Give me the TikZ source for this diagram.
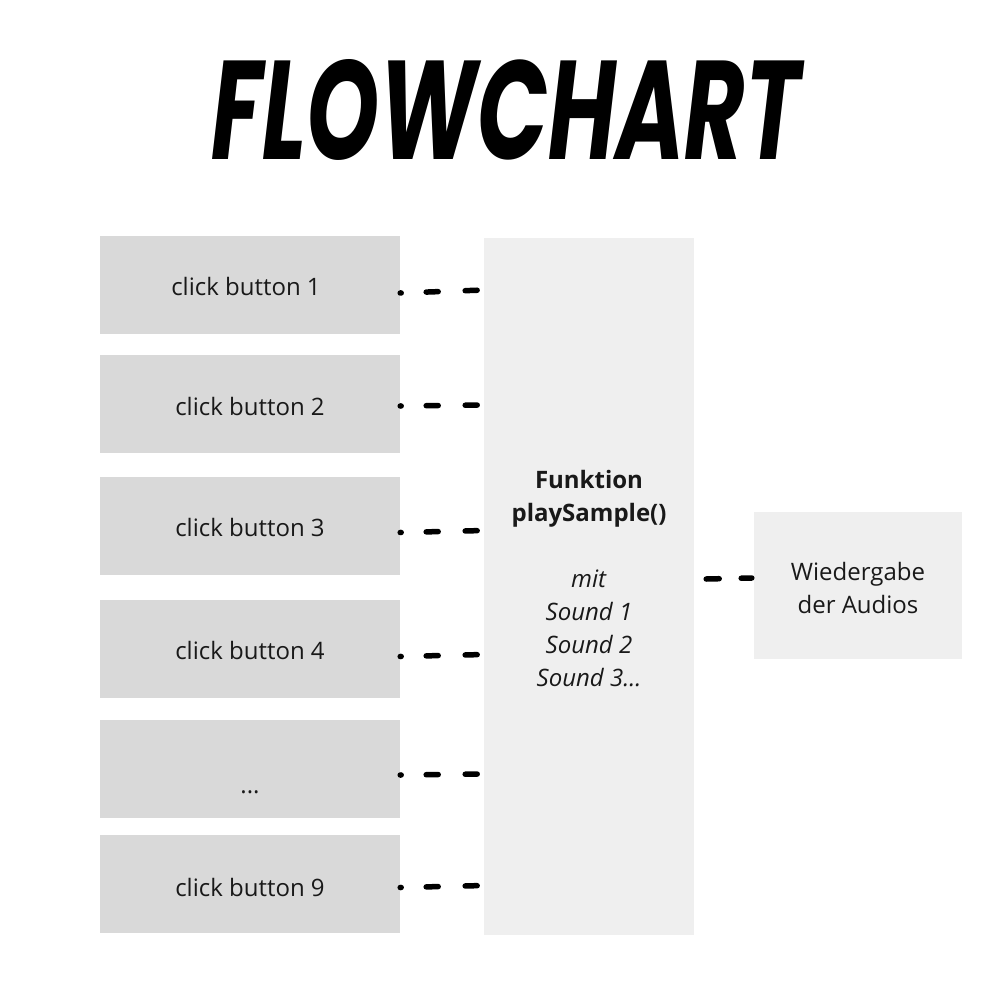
\documentclass[tikz,border=0pt]{standalone}
\usepackage{fontspec}
\usepackage{graphicx}
\setmainfont{Open Sans}
\newfontfamily\titlefont{Poppins}
\definecolor{btn}{HTML}{D9D9D9}
\definecolor{pale}{HTML}{EFEFEF}
\begin{document}
\begin{tikzpicture}[x=1pt,y=-1pt,
  btnbox/.style={fill=btn,minimum width=300pt,minimum height=98pt,inner sep=0pt,font=\fontsize{24}{33}\selectfont,text=black!90},
  palebox/.style={fill=pale,inner sep=0pt},
  txt/.style={font=\fontsize{24}{33}\selectfont,align=center,text=black!90},
  conn/.style={line width=5.5pt,line cap=round,dash pattern=on 1pt off 25pt on 12pt off 27pt on 12pt off 20pt}]
\useasboundingbox[fill=white] (0,0) rectangle (1000,1000);
\node[inner sep=0pt] (title) at (506,110) {\resizebox{588pt}{100pt}{\titlefont\bfseries\itshape FLOWCHART}};
\node[btnbox] (b1) at (250,285) {\raisebox{-10pt}[0pt][0pt]{\hspace*{-8pt}click button 1}};
\node[btnbox] (b2) at (250,404) {\raisebox{-11pt}[0pt][0pt]{click button 2}};
\node[btnbox] (b3) at (250,525.5) {\raisebox{-11pt}[0pt][0pt]{click button 3}};
\node[btnbox] (b4) at (250,648.5) {\raisebox{-11pt}[0pt][0pt]{click button 4}};
\node[btnbox] (b5) at (250,769) {\raisebox{-24pt}[0pt][0pt]{...}};
\node[btnbox] (b9) at (250,883.5) {\raisebox{-13pt}[0pt][0pt]{click button 9}};
\node[palebox,minimum width=210pt,minimum height=697pt] (f) at (589,586.5) {};
\node[txt] (ft) at (589,579) {\textbf{Funktion}\\\textbf{playSample()}\\[33pt]\textit{mit}\\\textit{Sound 1}\\\textit{Sound 2}\\\textit{Sound 3...}};
\node[palebox,minimum width=208pt,minimum height=147pt] (w) at (858,585.5) {};
\node[txt] (wt) at (858,587.5) {Wiedergabe\\der Audios};
\draw[conn] ([yshift=-8pt]b1.east) -- ([yshift=-5pt]f.west |- b1.east);
\draw[conn] ([yshift=-2pt]b2.east) -- ([yshift=-1pt]f.west |- b2.east);
\draw[conn] ([yshift=-7pt]b3.east) -- ([yshift=-5pt]f.west |- b3.east);
\draw[conn] ([yshift=-8pt]b4.east) -- ([yshift=-6pt]f.west |- b4.east);
\draw[conn] ([yshift=-6pt]b5.east) -- ([yshift=-5pt]f.west |- b5.east);
\draw[conn] ([yshift=-4pt]b9.east) -- ([yshift=-2pt]f.west |- b9.east);
\draw[line width=5.5pt,line cap=round,dash pattern=on 13pt off 22pt on 11pt off 5pt] ([xshift=12pt,yshift=6.5pt]f.east |- w.west) -- ([xshift=-2pt,yshift=7.5pt]w.west);
\end{tikzpicture}
\end{document}
